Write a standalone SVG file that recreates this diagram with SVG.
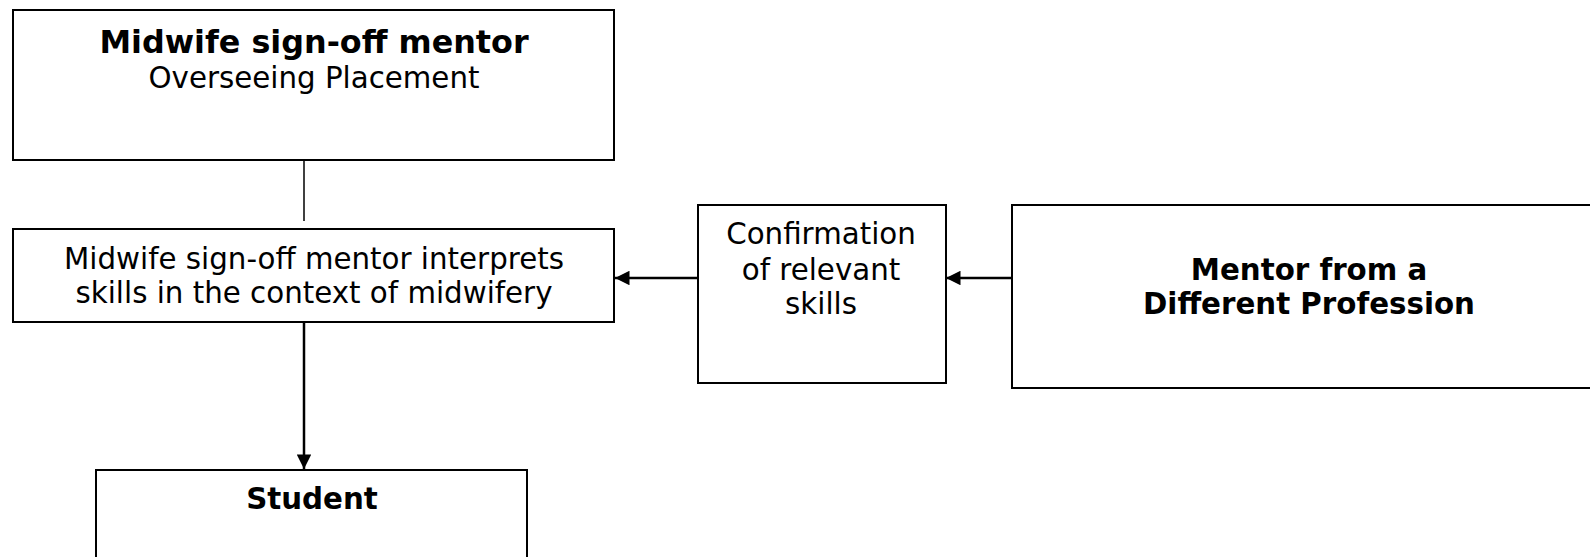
<svg xmlns="http://www.w3.org/2000/svg" width="1590" height="557" viewBox="0 0 1590 557">
<defs>
<style>
.box{fill:#fff;stroke:#000;stroke-width:2}
.t{font-family:"DejaVu Sans",Verdana,sans-serif;font-size:29.3px;fill:#000;text-anchor:middle}
.b{font-weight:bold}
.c{stroke:#000;stroke-width:2.5;fill:none}
</style>
<marker id="ah" viewBox="0 0 10 10" refX="10" refY="5" markerWidth="6.2" markerHeight="5.8" orient="auto" markerUnits="strokeWidth">
<path d="M0,0 L10,5 L0,10 z" fill="#000"/>
</marker>
</defs>
<g id="connectors">
<line class="c" x1="304" y1="160" x2="304" y2="221" style="stroke-width:1.5"/>
<line class="c" x1="304" y1="322" x2="304" y2="469" marker-end="url(#ah)"/>
<line class="c" x1="698" y1="278" x2="615" y2="278" marker-end="url(#ah)"/>
<line class="c" x1="1012" y1="278" x2="946" y2="278" marker-end="url(#ah)"/>
</g>
<g id="node-sign-off">
<rect class="box" x="13" y="10" width="601" height="150"/>
<text class="t b" x="314" y="53" style="font-size:31.8px">Midwife sign-off mentor</text>
<text class="t" x="314" y="88">Overseeing Placement</text>
</g>
<g id="node-interprets">
<rect class="box" x="13" y="229" width="601" height="93"/>
<text class="t" x="314" y="269">Midwife sign-off mentor interprets</text>
<text class="t" x="314" y="303">skills in the context of midwifery</text>
</g>
<g id="node-confirmation">
<rect class="box" x="698" y="205" width="248" height="178"/>
<text class="t" x="821" y="244">Confirmation</text>
<text class="t" x="821" y="280">of relevant</text>
<text class="t" x="821" y="314">skills</text>
</g>
<g id="node-mentor">
<rect class="box" x="1012" y="205" width="590" height="183"/>
<text class="t b" x="1309" y="280">Mentor from a</text>
<text class="t b" x="1309" y="314">Different Profession</text>
</g>
<g id="node-student">
<rect class="box" x="96" y="470" width="431" height="100"/>
<text class="t b" x="312" y="509">Student</text>
</g>
</svg>
